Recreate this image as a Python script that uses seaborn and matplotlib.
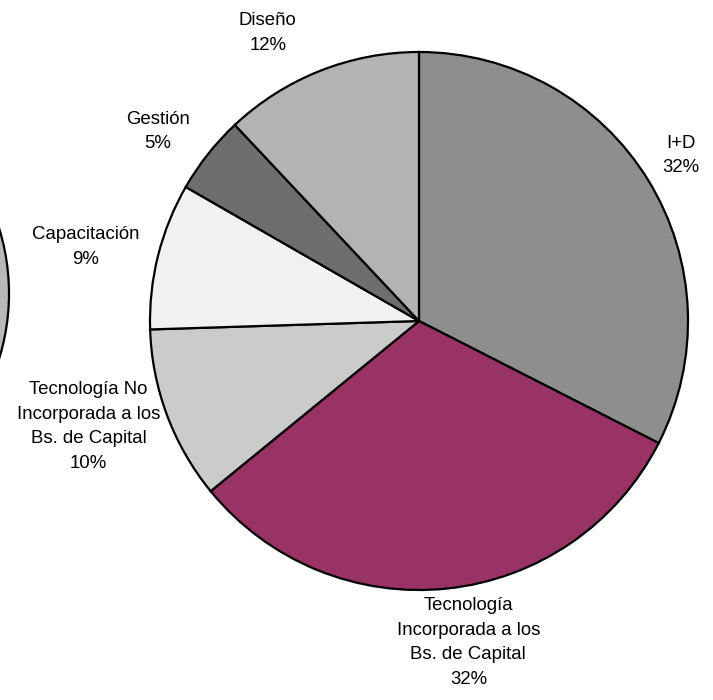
import numpy as np
import matplotlib
matplotlib.use("Agg")
import matplotlib.pyplot as plt
import seaborn as sns

# shares (clockwise from 12 o'clock)
categories = [
    "I+D",
    "Tecnología\nIncorporada a los\nBs. de Capital",
    "Tecnología No\nIncorporada a los\nBs. de Capital",
    "Capacitación",
    "Gestión",
    "Diseño",
]
shares = [32.5, 31.6, 10.4, 8.8, 4.7, 12.0]

# neighbouring chart that is cut off at the left edge
left_shares = [100]

# styling
colors = ["#8e8e8e", "#993366", "#cbcbcb", "#f1f1f1", "#6e6e6e", "#b3b3b3"]
label_dist = [1.15, 1.21, 1.29, 1.27, 1.20, 1.21]
label_shift = [0.8, 2.6, -2.8, 1.5, 2.4, 6.1]


def draw_main_pie(fig):
    """Main pie chart with two-line labels around it."""
    ax = fig.add_axes([150 / 713, 1 - 590 / 700, 538 / 713, 538 / 700])
    wedges, _ = ax.pie(
        shares,
        colors=colors,
        startangle=90,
        counterclock=False,
        wedgeprops={"edgecolor": "black", "linewidth": 1.6},
    )
    for w, name, val, d, s in zip(wedges, categories, shares, label_dist, label_shift):
        ang = np.deg2rad((w.theta1 + w.theta2) / 2 + s)
        ax.text(
            d * np.cos(ang),
            d * np.sin(ang),
            f"{name}\n{val:.0f}%",
            ha="center",
            va="center",
            multialignment="center",
            linespacing=1.58,
            fontsize=13.4,
            color="black",
        )
    ax.set_xlim(-1, 1)
    ax.set_ylim(-1, 1)
    ax.set_aspect("equal")
    ax.axis("off")
    return ax


def draw_left_pie(fig):
    """Edge of another pie that sticks in from the left."""
    ax = fig.add_axes([-432 / 713, 1 - 514 / 700, 441 / 713, 441 / 700])
    ax.pie(
        left_shares,
        colors=["#b8b8b8"],
        wedgeprops={"edgecolor": "black", "linewidth": 1.6},
    )
    ax.set_xlim(-1, 1)
    ax.set_ylim(-1, 1)
    ax.set_aspect("equal")
    ax.axis("off")
    return ax


sns.set_theme(style="white")
plt.rcParams["font.family"] = ["Liberation Sans", "DejaVu Sans"]

fig = plt.figure(figsize=(7.13, 7.00), dpi=100)
fig.patch.set_facecolor("white")
draw_left_pie(fig)
draw_main_pie(fig)
fig.savefig("out.png", dpi=100)
